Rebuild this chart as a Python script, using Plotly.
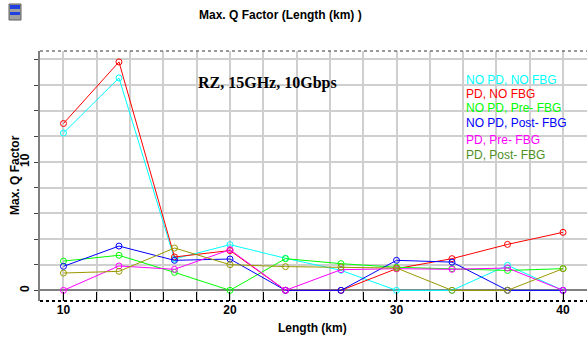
import plotly.graph_objects as go

lengths = [10, 13.333, 16.667, 20, 23.333, 26.667, 30, 33.333, 36.667, 40]

series_names = ["NO PD, NO FBG", "PD, NO FBG", "NO PD, Pre- FBG",
                "NO PD, Post- FBG", "PD, Pre- FBG", "PD, Post- FBG"]
no_pd_no_fbg = [12.26, 16.55, 2.45, 3.56, 2.5, 1.56, 0.0, 0.0, 1.95, 0.0]
pd_no_fbg = [13.0, 17.8, 2.6, 3.1, 0.0, 0.0, 1.69, 2.47, 3.58, 4.52]
no_pd_pre_fbg = [2.28, 2.73, 1.4, 0.0, 2.47, 2.08, 1.8, 1.69, 1.55, 1.69]
no_pd_post_fbg = [1.87, 3.45, 2.34, 2.44, 0.0, 0.0, 2.34, 2.2, 0.0, 0.0]
pd_pre_fbg = [0.0, 1.9, 1.64, 3.17, 0.0, 1.61, 1.69, 1.64, 1.74, 0.0]
pd_post_fbg = [1.35, 1.48, 3.3, 2.0, 1.85, 1.82, 1.74, 0.0, 0.0, 1.69]

series_values = [no_pd_no_fbg, pd_no_fbg, no_pd_pre_fbg,
                 no_pd_post_fbg, pd_pre_fbg, pd_post_fbg]
line_colors = ["#00FFFF", "#FF0000", "#00FF00", "#0000FF", "#FF00FF", "#999900"]
text_colors = ["#00FFFF", "#FF0000", "#00FF00", "#0000FF", "#FF00FF", "#4D8F26"]

x_tick_labels = ["10", "20", "30", "40"]
y_tick_labels = ["0", "10"]

fig = go.Figure()
for name, vals, col in zip(series_names, series_values, line_colors):
    fig.add_trace(go.Scatter(
        x=lengths, y=vals, name=name, mode="lines+markers",
        line=dict(color=col, width=1),
        marker=dict(symbol="circle-open", size=6, color=col, line=dict(width=1, color=col)),
        showlegend=False,
    ))

FONT = "Liberation Sans, Arial, sans-serif"
y_grid = list(range(0, 19, 2))
x_grid = list(range(10, 42, 2))

fig.update_layout(
    width=587, height=341,
    margin=dict(l=40, r=0, t=51, b=40),
    paper_bgcolor="white", plot_bgcolor="white",
    font=dict(family=FONT, size=12, color="black"),
    xaxis=dict(
        range=[8.59, 41.44], showgrid=True, gridcolor="#CFCFCF", gridwidth=2,
        tickmode="array", tickvals=x_grid,
        ticktext=[str(v) if str(v) in x_tick_labels else "" for v in x_grid],
        ticks="inside", ticklen=9, tickcolor="black", tickwidth=1,
        tickfont=dict(family=FONT, size=12, color="black", weight="bold"),
        zeroline=False, showline=False,
    ),
    yaxis=dict(
        range=[-0.83, 18.65], showgrid=True, gridcolor="#CFCFCF", gridwidth=2,
        tickmode="array", tickvals=y_grid,
        ticktext=[str(v) if str(v) in y_tick_labels else "" for v in y_grid],
        tickangle=-90,
        ticks="outside", ticklen=4, tickcolor="#444444", tickwidth=1,
        tickfont=dict(family=FONT, size=12, color="black", weight="bold"),
        zeroline=True, zerolinecolor="#808080", zerolinewidth=2,
        showline=True, linecolor="#808080", linewidth=2,
    ),
)

# frame lines: dotted top and bottom borders
fig.add_shape(type="line", xref="paper", yref="paper", x0=0, x1=1, y0=1, y1=1,
              line=dict(color="#333333", width=1, dash="dot"))
fig.add_shape(type="line", xref="paper", yref="paper", x0=0, x1=1, y0=0, y1=0,
              line=dict(color="black", width=2, dash="dot"))

# title and axis titles
fig.add_annotation(text="<b>Max. Q Factor (Length (km) )</b>", xref="paper", yref="paper",
                   x=(280 - 40) / 547, y=(341 - 15 - 40) / 250, xanchor="center", yanchor="middle",
                   showarrow=False, font=dict(family=FONT, size=12, color="black"))
fig.add_annotation(text="<b>Length (km)</b>", xref="paper", yref="paper",
                   x=(312 - 40) / 547, y=(341 - 328 - 40) / 250, xanchor="center", yanchor="middle",
                   showarrow=False, font=dict(family=FONT, size=12, color="black"))
fig.add_annotation(text="<b>Max. Q Factor</b>", xref="paper", yref="paper",
                   x=(15 - 40) / 547, y=(341 - 175 - 40) / 250, xanchor="center", yanchor="middle",
                   textangle=-90, showarrow=False, font=dict(family=FONT, size=12, color="black"))
fig.add_annotation(text="<b>RZ, 15GHz, 10Gbps</b>", xref="paper", yref="paper",
                   x=(196 - 40) / 547, y=(341 - 83 - 40) / 250, xanchor="left", yanchor="middle",
                   showarrow=False, font=dict(family="Liberation Serif, serif", size=16, color="black"))

# legend as coloured text
legend_y = [80, 93.5, 107.5, 122.5, 140, 154.5]
for name, col, yy in zip(series_names, text_colors, legend_y):
    fig.add_annotation(text=name, xref="paper", yref="paper",
                       x=(464 - 40) / 547, y=(341 - yy - 40) / 250, xanchor="left", yanchor="middle",
                       showarrow=False, font=dict(family=FONT, size=12, color=col))

# small window icon at top-left
fig.add_shape(type="rect", xref="paper", yref="paper",
              x0=(9 - 40) / 547, x1=(21 - 40) / 547, y0=(341 - 20 - 40) / 250, y1=(341 - 4 - 40) / 250,
              fillcolor="#A0A0A0", line=dict(color="#606060", width=1))
fig.add_shape(type="rect", xref="paper", yref="paper",
              x0=(10 - 40) / 547, x1=(20 - 40) / 547, y0=(341 - 9 - 40) / 250, y1=(341 - 5 - 40) / 250,
              fillcolor="#2040E0", line=dict(width=0))
fig.add_shape(type="rect", xref="paper", yref="paper",
              x0=(10 - 40) / 547, x1=(20 - 40) / 547, y0=(341 - 15 - 40) / 250, y1=(341 - 12 - 40) / 250,
              fillcolor="#2040E0", line=dict(width=0))

fig.write_html("out.html")
